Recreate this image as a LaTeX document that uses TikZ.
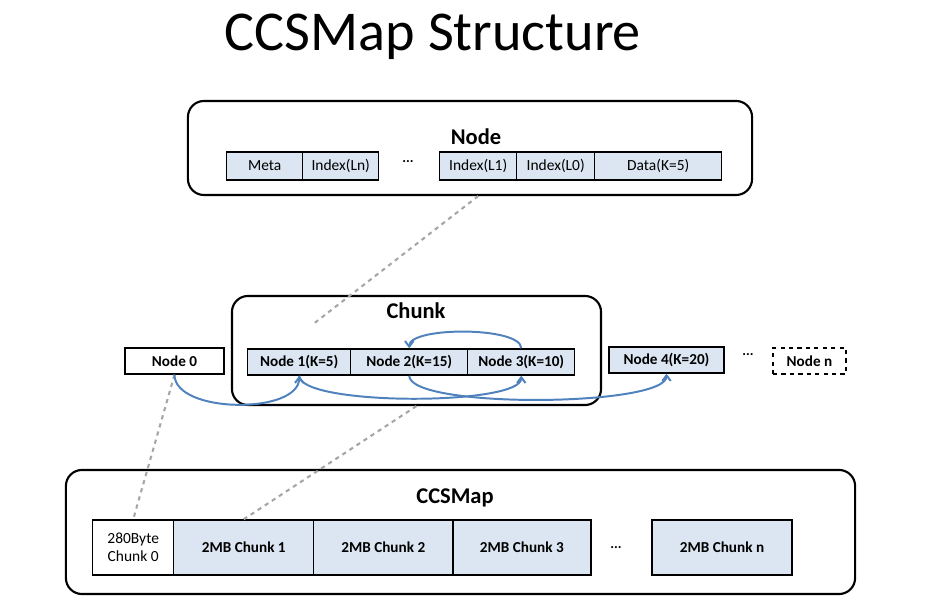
\documentclass[tikz,border=0pt]{standalone}
\usepackage{fontspec}
\setmainfont{Carlito}
\usepackage{tikz}
\usetikzlibrary{arrows.meta, positioning}
\definecolor{cellblue}{RGB}{220, 230, 242}
\definecolor{linkblue}{RGB}{79, 129, 189}
\newcommand{\pxu}{0.025cm}

\begin{document}
\begin{tikzpicture}[x=\pxu, y=-\pxu,
  frame/.style={draw, line width=1.5pt, rounded corners=0.4cm, inner sep=0pt},
  cell/.style={draw, line width=1pt, fill=cellblue, inner sep=0pt, font=\fontsize{11}{13}\selectfont},
  bcell/.style={cell, font=\fontsize{10.8}{13}\selectfont\bfseries},
  title/.style={font=\fontsize{16}{19}\selectfont\bfseries},
  ptr/.style={draw, dashed, line width=1.5pt, gray!70},
  link/.style={draw, line width=1.4pt, linkblue, -{Straight Barb[length=4pt, width=6pt]}},
]
  \useasboundingbox (0,0) rectangle (928,615);

  \node[font=\fontsize{40}{46}\selectfont] (head) at (433,37) {CCSMap Structure};

  % Node layout
  \node[frame, minimum width=14.1cm, minimum height=2.35cm] (nodebox) at (470,148) {};
  \node[title] (nodelbl) at (476,137) {Node};
  \node[cell, anchor=west, minimum width=1.9cm, minimum height=0.7cm] (meta) at (226,166) {Meta};
  \node[cell, right=-1pt of meta, minimum width=1.9cm, minimum height=0.7cm] (idxln) {Index(Ln)};
  \node[font=\bfseries] (ndots) at (408,162) {...};
  \node[cell, anchor=west, minimum width=1.925cm, minimum height=0.7cm] (idxl1) at (439,166) {Index(L1)};
  \node[cell, right=-1pt of idxl1, minimum width=1.95cm, minimum height=0.7cm] (idxl0) {Index(L0)};
  \node[cell, right=-1pt of idxl0, minimum width=3.175cm, minimum height=0.7cm] (data) {Data(K=5)};

  % Chunk layout
  \node[frame, minimum width=9.225cm, minimum height=2.725cm] (chunkbox) at (416.5,350.5) {};
  \node[title] (chunklbl) at (416,311) {Chunk};
  \node[bcell, anchor=west, minimum width=2.575cm, minimum height=0.65cm] (node1) at (247,362) {Node 1(K=5)};
  \node[bcell, right=-1pt of node1, minimum width=2.925cm, minimum height=0.65cm] (node2) {Node 2(K=15)};
  \node[bcell, right=-1pt of node2, minimum width=2.675cm, minimum height=0.65cm] (node3) {Node 3(K=10)};
  \node[bcell, fill=white, minimum width=2.475cm, minimum height=0.65cm] (node0) at (174.5,361) {Node 0};
  \node[bcell, minimum width=2.875cm, minimum height=0.65cm] (node4) at (666.5,360) {Node 4(K=20)};
  \node[font=\bfseries] (cdots) at (748,355) {...};
  \node[bcell, fill=white, dashed, line width=1.3pt, minimum width=1.825cm, minimum height=0.65cm] (noden) at (809.5,361) {Node n};

  % CCSMap layout
  \node[frame, minimum width=19.725cm, minimum height=3.1cm] (mapbox) at (460.5,532) {};
  \node[title] (maplbl) at (455,498) {CCSMap};
  \node[cell, fill=white, anchor=west, minimum width=2.025cm, minimum height=1.375cm, align=center] (chunk0) at (92,547.5) {280Byte\\Chunk 0};
  \node[bcell, right=-1pt of chunk0, minimum width=3.5cm, minimum height=1.375cm] (chunk1) {2MB Chunk 1};
  \node[bcell, right=-1pt of chunk1, minimum width=3.475cm, minimum height=1.375cm] (chunk2) {2MB Chunk 2};
  \node[bcell, right=-1pt of chunk2, minimum width=3.45cm, minimum height=1.375cm] (chunk3) {2MB Chunk 3};
  \node[font=\bfseries] (mdots) at (616,548) {...};
  \node[bcell, minimum width=3.5cm, minimum height=1.375cm] (chunkn) at (722,547.5) {2MB Chunk n};

  % zoom lines
  \coordinate (nodetip) at (312,325);
  \draw[ptr] (idxl1.south |- nodebox.south) -- (nodetip);
  \draw[ptr] (node0.south) -- (chunk0.north);
  \draw[ptr] (chunkbox.south) -- (chunk1.north);

  % next pointers
  \draw[link] (node0.south) to[out=-90, in=-90, looseness=0.8] (node1.south);
  \draw[link] (node1.south) to[out=-90, in=-90, looseness=0.35] (node3.south);
  \draw[link] (node2.south) to[out=-90, in=-90, looseness=0.33] (node4.south);
  \draw[link] (node3.north) to[out=90, in=90, looseness=0.5] (node2.north);
\end{tikzpicture}
\end{document}
